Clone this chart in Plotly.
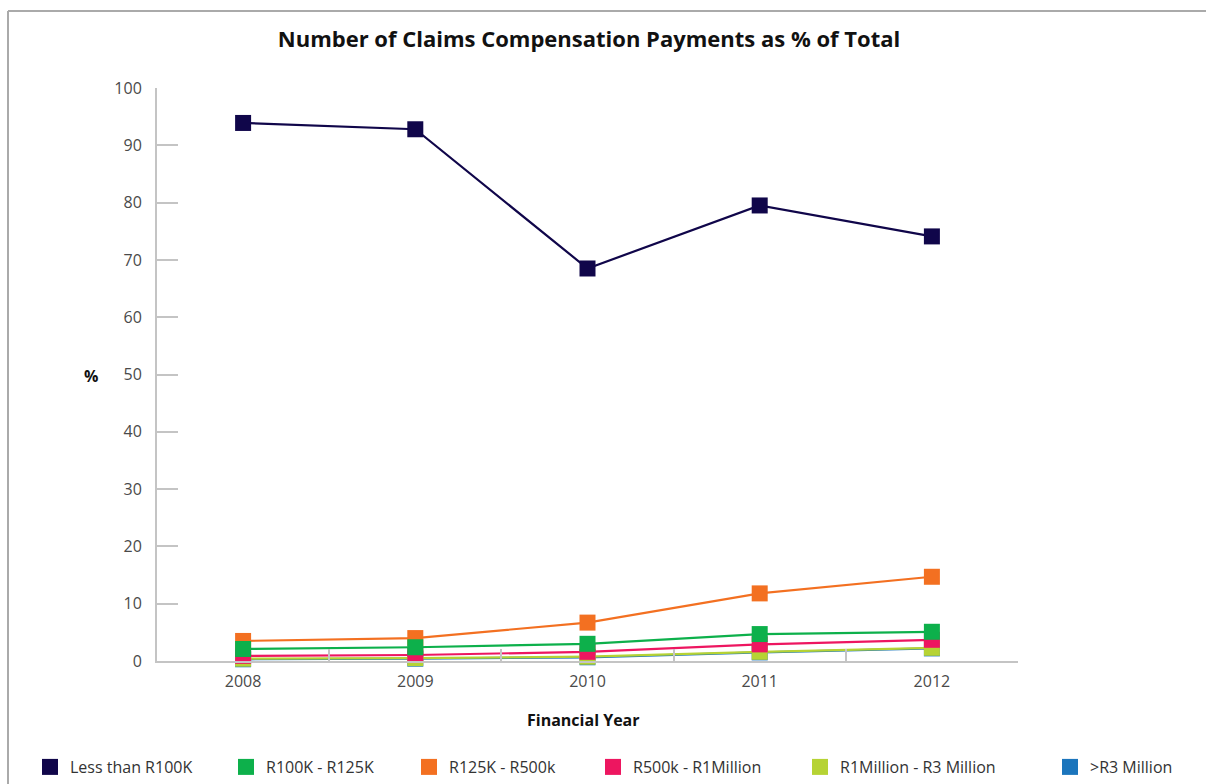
import plotly.graph_objects as go

# Financial years and share (%) of claims compensation payments per band
years = ["2008", "2009", "2010", "2011", "2012"]
less_than_r100k = [93.9, 92.8, 68.5, 79.5, 74.1]
r100k_r125k = [2.1, 2.4, 3.0, 4.7, 5.1]
r125k_r500k = [3.5, 4.0, 6.7, 11.8, 14.7]
r500k_r1m = [0.9, 1.05, 1.6, 2.9, 3.7]
r1m_r3m = [0.4, 0.5, 0.75, 1.6, 2.3]
over_r3m = [0.3, 0.4, 0.65, 1.5, 2.2]

series_names = ["Less than R100K", "R100K - R125K", "R125K - R500k",
                "R500k - R1Million", "R1Million - R3 Million", ">R3 Million"]
series_values = [less_than_r100k, r100k_r125k, r125k_r500k,
                 r500k_r1m, r1m_r3m, over_r3m]
series_colors = ["#10064a", "#0db04b", "#f37021", "#ed1660", "#b6d334", "#1b75bc"]

FONT = "Open Sans"
W, H = 1206, 784
ML, MR, MT, MB = 157, 188, 88, 123
PW, PH = W - ML - MR, H - MT - MB


def px_x(p):
    return (p - ML) / PW


def px_y(p):
    return (H - MB - p) / PH


fig = go.Figure()

# draw order: smallest bands first so the larger ones sit on top
draw_order = [5, 4, 3, 2, 1, 0]
for i in draw_order:
    fig.add_trace(go.Scatter(
        x=years, y=series_values[i], name=series_names[i],
        mode="lines+markers",
        line=dict(color=series_colors[i], width=2.2),
        marker=dict(symbol="square", size=16, color=series_colors[i]),
        cliponaxis=False, showlegend=False,
    ))

# legend entries: one legend per band so each square sits at its own spot
legend_x = [42, 238, 421, 605, 812, 1062]
for i, name in enumerate(series_names):
    key = "legend" if i == 0 else f"legend{i + 1}"
    fig.add_trace(go.Scatter(
        x=[None], y=[None], name=name, mode="markers",
        marker=dict(symbol="square", size=20, color=series_colors[i]),
        legend=key, showlegend=True,
    ))
    fig.layout[key] = dict(
        xref="container", yref="container",
        x=(legend_x[i] - 12) / W, y=1 - 750 / H, xanchor="left", yanchor="top",
        orientation="h", bgcolor="rgba(0,0,0,0)",
        font=dict(family=FONT, size=16, color="#333333"),
        itemwidth=30, tracegroupgap=0,
    )

axis_grey = "#c4c4c4"
fig.update_layout(
    width=W, height=H,
    margin=dict(l=ML, r=MR, t=MT, b=MB, pad=0, autoexpand=False),
    paper_bgcolor="white", plot_bgcolor="white",
    font=dict(family=FONT, color="#444444"),
    title=dict(
        text="<b>Number of Claims Compensation Payments as % of Total</b>",
        xref="container", yref="container",
        x=589 / W, xanchor="center", y=1 - 39 / H, yanchor="middle",
        font=dict(family=FONT, size=22, color="#111111"),
    ),
    xaxis=dict(
        type="category", range=[-0.5, 4.5],
        showline=True, linecolor=axis_grey, linewidth=2,
        ticks="inside", tickson="boundaries", ticklen=12,
        tickcolor=axis_grey, tickwidth=2,
        showgrid=False, zeroline=False,
        tickfont=dict(family=FONT, size=16, color="#4a4a4a"),
        ticklabelstandoff=5,
    ),
    yaxis=dict(
        range=[0, 100], dtick=10,
        showline=True, linecolor=axis_grey, linewidth=2,
        ticks="inside", ticklen=21, tickcolor=axis_grey, tickwidth=2,
        showgrid=False, zeroline=False,
        tickfont=dict(family=FONT, size=16, color="#4a4a4a"),
        ticklabelstandoff=10,
    ),
    annotations=[
        dict(text="<b>%</b>", x=px_x(100), y=px_y(376), xref="paper", yref="paper",
             xanchor="right", yanchor="middle", showarrow=False,
             font=dict(family=FONT, size=16, color="#111111")),
        dict(text="<b>Financial Year</b>", x=px_x(583), y=px_y(720),
             xref="paper", yref="paper", xanchor="center", yanchor="middle",
             showarrow=False,
             font=dict(family=FONT, size=16, color="#111111")),
    ],
    shapes=[
        # outer frame (top and left edges)
        dict(type="line", xref="paper", yref="paper",
             x0=px_x(8), x1=px_x(W + 5), y0=px_y(11), y1=px_y(11),
             line=dict(color="#aaaaaa", width=2)),
        dict(type="line", xref="paper", yref="paper",
             x0=px_x(8), x1=px_x(8), y0=px_y(11), y1=px_y(H + 5),
             line=dict(color="#aaaaaa", width=2)),
    ],
)

fig.write_html("out.html")
